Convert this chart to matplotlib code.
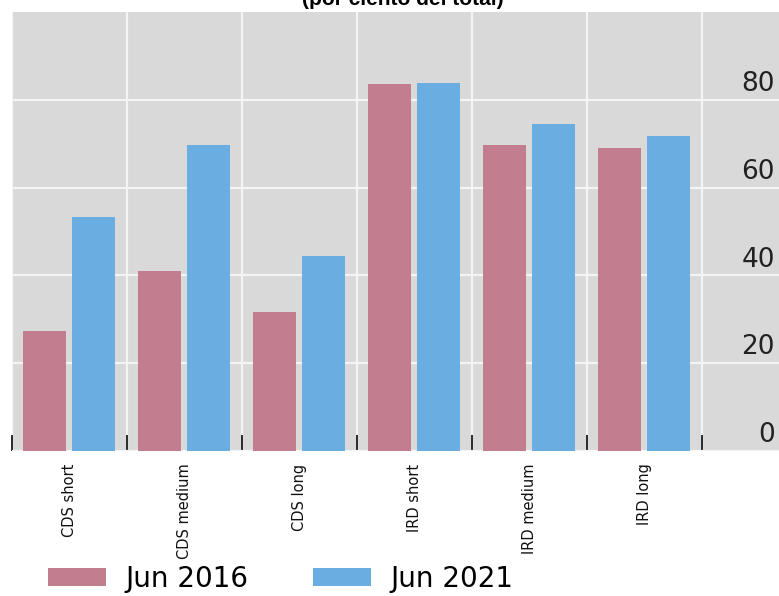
import matplotlib
matplotlib.use("Agg")
import matplotlib.pyplot as plt
import numpy as np

# ----- data -----
categories = ["CDS short", "CDS medium", "CDS long", "IRD short", "IRD medium", "IRD long"]
jun_2016 = [27.3, 41.1, 31.7, 83.6, 69.6, 69.0]
jun_2021 = [53.4, 69.7, 44.5, 83.9, 74.5, 71.7]
series_labels = ["Jun 2016", "Jun 2021"]
y_ticks = [0, 20, 40, 60, 80]
title = "(por ciento del total)"

pink = "#C27E8E"
blue = "#6AADE0"
bg = "#D9D9D9"

fig = plt.figure(figsize=(7.79, 5.96), dpi=100)
ax = fig.add_axes([0.015, 0.2433, 0.985, 0.7366])
ax.set_facecolor(bg)

x = np.arange(len(categories))
w = 0.374
ax.bar(x - 0.215, jun_2016, width=w, color=pink, label=series_labels[0], zorder=3)
ax.bar(x + 0.215, jun_2021, width=w, color=blue, label=series_labels[1], zorder=3)

ax.set_xlim(-0.5, 6.172)
ax.set_ylim(0, 100)

for s in ax.spines.values():
    s.set_visible(False)

# category labels
ax.set_xticks(x)
ax.set_xticklabels(categories, rotation=90, fontsize=10.5, color="#111111")
ax.tick_params(axis="x", which="major", length=0, pad=9)

# group separators: white gridlines + small dark ticks at the bottom
ax.set_xticks(np.arange(-0.5, 6.0, 1), minor=True)
ax.tick_params(axis="x", which="minor", direction="in", length=11.5,
               width=1.4, color="#2a2a2a")
ax.grid(True, which="minor", axis="x", color="#F4F4F4", linewidth=1.6, zorder=0)

ax.set_yticks(y_ticks)
ax.set_yticklabels([])
ax.tick_params(axis="y", length=0)
ax.grid(True, which="major", axis="y", color="#F4F4F4", linewidth=1.6, zorder=0)
ax.set_axisbelow(True)

# y labels sit inside the plot on the right, just above the gridlines
for v in y_ticks:
    ax.text(6.137, v + 3.6, str(v), ha="right", va="center",
            fontsize=19, color="#222222")

fig.text(0.517, 1 - 5 / 596, title, ha="center", va="baseline",
         fontsize=15, fontweight="bold", family="Liberation Sans")

handles, labels = ax.get_legend_handles_labels()
fig.legend(handles, labels, ncol=2, loc="lower left",
           bbox_to_anchor=(0.058, 0.0), frameon=False, fontsize=20,
           handlelength=2.1, handleheight=0.62, handletextpad=0.7,
           columnspacing=2.3, borderpad=0.1, borderaxespad=0)

fig.savefig("out.png", dpi=100)
